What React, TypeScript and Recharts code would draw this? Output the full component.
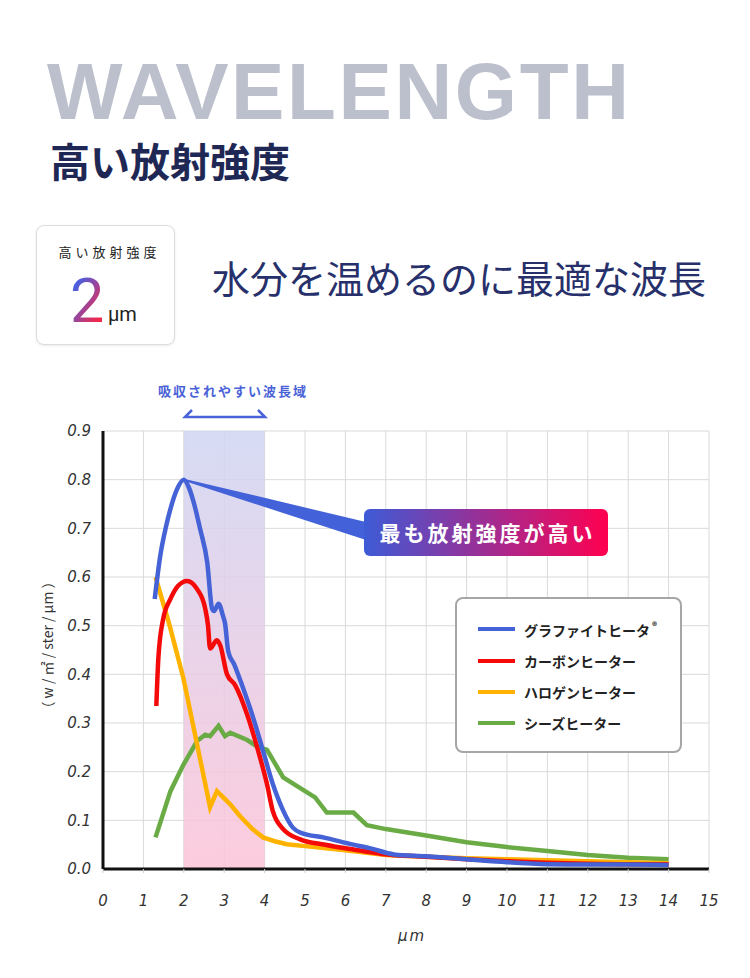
import { LineChart, Line, XAxis, YAxis, CartesianGrid, ReferenceArea, ReferenceDot } from 'recharts';

const xTicks = [0, 1, 2, 3, 4, 5, 6, 7, 8, 9, 10, 11, 12, 13, 14, 15];
const yTicks = [0, 0.1, 0.2, 0.3, 0.4, 0.5, 0.6, 0.7, 0.8, 0.9];

const seriesNames = ['グラファイトヒータ', 'カーボンヒーター', 'ハロゲンヒーター', 'シーズヒーター'];

const graphite = [
  { x: 1.28, y: 0.555 }, { x: 1.42, y: 0.645 }, { x: 1.55, y: 0.7 }, { x: 1.67, y: 0.74 },
  { x: 1.83, y: 0.78 }, { x: 2.0, y: 0.8 }, { x: 2.12, y: 0.785 }, { x: 2.24, y: 0.755 },
  { x: 2.4, y: 0.7 }, { x: 2.58, y: 0.63 }, { x: 2.7, y: 0.535 }, { x: 2.75, y: 0.53 },
  { x: 2.86, y: 0.545 }, { x: 2.97, y: 0.52 }, { x: 3.02, y: 0.505 }, { x: 3.1, y: 0.447 },
  { x: 3.25, y: 0.42 }, { x: 3.44, y: 0.378 }, { x: 3.72, y: 0.31 }, { x: 3.96, y: 0.243 },
  { x: 4.21, y: 0.173 }, { x: 4.46, y: 0.12 }, { x: 4.7, y: 0.085 }, { x: 4.88, y: 0.075 },
  { x: 5.5, y: 0.064 }, { x: 6.2, y: 0.05 }, { x: 6.6, y: 0.043 }, { x: 7.2, y: 0.03 },
  { x: 8, y: 0.026 }, { x: 9, y: 0.02 }, { x: 10, y: 0.014 }, { x: 11, y: 0.01 },
  { x: 12, y: 0.009 }, { x: 13, y: 0.009 }, { x: 14, y: 0.008 },
];

const carbon = [
  { x: 1.32, y: 0.335 }, { x: 1.37, y: 0.433 }, { x: 1.49, y: 0.514 }, { x: 1.67, y: 0.555 },
  { x: 1.86, y: 0.582 }, { x: 2.08, y: 0.592 }, { x: 2.33, y: 0.575 }, { x: 2.53, y: 0.535 },
  { x: 2.6, y: 0.5 }, { x: 2.65, y: 0.453 }, { x: 2.82, y: 0.47 }, { x: 2.9, y: 0.46 },
  { x: 3.07, y: 0.4 }, { x: 3.27, y: 0.378 }, { x: 3.57, y: 0.317 }, { x: 3.84, y: 0.243 },
  { x: 4.06, y: 0.174 }, { x: 4.2, y: 0.12 }, { x: 4.46, y: 0.082 }, { x: 4.88, y: 0.061 },
  { x: 5.5, y: 0.05 }, { x: 6.2, y: 0.04 }, { x: 6.9, y: 0.031 }, { x: 8, y: 0.025 },
  { x: 9, y: 0.02 }, { x: 10, y: 0.016 }, { x: 11, y: 0.013 }, { x: 12, y: 0.011 },
  { x: 13, y: 0.01 }, { x: 14, y: 0.01 },
];

const halogen = [
  { x: 1.3, y: 0.6 }, { x: 1.65, y: 0.5 }, { x: 1.99, y: 0.392 }, { x: 2.65, y: 0.127 },
  { x: 2.82, y: 0.16 }, { x: 3.15, y: 0.133 }, { x: 3.4, y: 0.108 }, { x: 3.7, y: 0.082 },
  { x: 3.96, y: 0.065 }, { x: 4.25, y: 0.057 }, { x: 4.55, y: 0.051 }, { x: 5, y: 0.047 },
  { x: 5.94, y: 0.039 }, { x: 7, y: 0.029 }, { x: 8, y: 0.025 }, { x: 9, y: 0.022 },
  { x: 10, y: 0.02 }, { x: 11, y: 0.018 }, { x: 12, y: 0.016 }, { x: 13, y: 0.014 },
  { x: 14, y: 0.012 },
];

const sheath = [
  { x: 1.3, y: 0.065 }, { x: 1.67, y: 0.16 }, { x: 1.99, y: 0.214 }, { x: 2.33, y: 0.263 },
  { x: 2.53, y: 0.276 }, { x: 2.65, y: 0.273 }, { x: 2.86, y: 0.294 }, { x: 3.02, y: 0.273 },
  { x: 3.15, y: 0.28 }, { x: 3.57, y: 0.265 }, { x: 3.81, y: 0.252 }, { x: 4.06, y: 0.245 },
  { x: 4.46, y: 0.188 }, { x: 5.25, y: 0.147 }, { x: 5.54, y: 0.116 }, { x: 6.2, y: 0.116 },
  { x: 6.53, y: 0.09 }, { x: 7, y: 0.082 }, { x: 8, y: 0.069 }, { x: 9, y: 0.055 },
  { x: 10, y: 0.045 }, { x: 11, y: 0.037 }, { x: 12, y: 0.029 }, { x: 13, y: 0.023 },
  { x: 14, y: 0.02 },
];

const peak = { x: 2.0, y: 0.8 };
const colors = ['#4563d6', '#f50a0a', '#ffb300', '#6aab45'];

const jp = '"Noto Sans CJK JP", "Noto Sans", sans-serif';
const tickStyle = { fontFamily: '"DejaVu Sans"', fontStyle: 'italic', fontSize: 15, fill: '#333' };

const Wedge = (props: any) => {
  const { cx, cy } = props;
  return <polygon points={`${cx},${cy - 1} ${cx},${cy + 1} 366,540 366,522`} fill="#4361d8" />;
};

export default function App() {
  return (
    <div style={{ position: 'relative', width: 750, height: 978, background: '#fff', fontFamily: jp, overflow: 'hidden' }}>
      <style>{`body{margin:0}`}</style>
      <svg width="0" height="0" style={{ position: 'absolute' }}>
        <defs>
          <linearGradient id="band" x1="0" y1="0" x2="0" y2="1">
            <stop offset="0%" stopColor="#cfd5f2" />
            <stop offset="100%" stopColor="#fcc3d8" />
          </linearGradient>
        </defs>
      </svg>

      <div style={{ position: 'absolute', left: 47, top: 52, fontFamily: '"Liberation Sans", Arial, sans-serif', fontWeight: 700, fontSize: 80, lineHeight: 1, letterSpacing: 2.6, color: '#bcc0cc' }}>WAVELENGTH</div>
      <div style={{ position: 'absolute', left: 50, top: 140, fontWeight: 700, fontSize: 40, lineHeight: 1, color: '#1f2854' }}>高い放射強度</div>

      <div style={{ position: 'absolute', left: 36, top: 225, width: 137, height: 118, border: '1px solid #dcdcdc', borderRadius: 8, boxShadow: '0 1px 3px rgba(0,0,0,0.08)', background: '#fff' }}>
        <div style={{ position: 'absolute', left: 0, width: 137, top: 19, textAlign: 'center', fontSize: 13, lineHeight: 1, letterSpacing: 4, paddingLeft: 4, color: '#222' }}>高い放射強度</div>
        <div style={{ position: 'absolute', left: 33, top: 45, fontFamily: 'Roboto, sans-serif', fontSize: 61, lineHeight: 1, background: 'linear-gradient(120deg, #4a5fe0 20%, #f0294f 80%)', WebkitBackgroundClip: 'text', backgroundClip: 'text', color: 'transparent' }}>2</div>
        <div style={{ position: 'absolute', left: 71, top: 78, fontFamily: 'Roboto, sans-serif', fontSize: 20, lineHeight: 1, color: '#222' }}>μm</div>
      </div>

      <div style={{ position: 'absolute', left: 212, top: 258, fontSize: 38, lineHeight: 1, color: '#27306a' }}>水分を温めるのに最適な波長</div>

      <div style={{ position: 'absolute', left: 158, top: 384, fontSize: 13, fontWeight: 700, letterSpacing: 2, lineHeight: 1, color: '#4a62d8' }}>吸収されやすい波長域</div>
      <svg style={{ position: 'absolute', left: 0, top: 0 }} width={750} height={440}>
        <polyline points="192,410 185,417 265,417 258,410" fill="none" stroke="#4a62d8" strokeWidth={2.5} />
      </svg>

      <div style={{ position: 'absolute', left: 0, top: 0 }}>
        <LineChart width={750} height={978} margin={{ top: 431, right: 41, bottom: 79, left: 43 }}>
          <CartesianGrid stroke="#d9d9d9" strokeWidth={1} />
          <XAxis
            dataKey="x"
            type="number"
            domain={[0, 15]}
            ticks={xTicks}
            interval={0}
            height={30}
            axisLine={{ stroke: '#111', strokeWidth: 3 }}
            tickLine={{ stroke: '#cfcfcf' }}
            tickSize={4}
            tickMargin={22}
            tick={tickStyle}
            allowDataOverflow
          />
          <YAxis
            type="number"
            domain={[0, 0.9]}
            ticks={yTicks}
            interval={0}
            width={60}
            axisLine={{ stroke: '#111', strokeWidth: 3 }}
            tickLine={false}
            tickSize={0}
            tickMargin={12}
            tick={tickStyle}
            tickFormatter={(v: number) => v.toFixed(1)}
          />
          <ReferenceArea x1={2} x2={4} y1={0} y2={0.9} fill="url(#band)" fillOpacity={0.85} stroke="none" />
          <Line data={sheath} dataKey="y" name={seriesNames[3]} type="linear" stroke={colors[3]} strokeWidth={4.5} dot={false} isAnimationActive={false} />
          <Line data={halogen} dataKey="y" name={seriesNames[2]} type="linear" stroke={colors[2]} strokeWidth={4.5} dot={false} isAnimationActive={false} />
          <Line data={carbon} dataKey="y" name={seriesNames[1]} type="monotone" stroke={colors[1]} strokeWidth={4.5} dot={false} isAnimationActive={false} />
          <Line data={graphite} dataKey="y" name={seriesNames[0]} type="monotone" stroke={colors[0]} strokeWidth={4.5} dot={false} isAnimationActive={false} />
          <ReferenceDot x={peak.x} y={peak.y} r={0} shape={Wedge} />
        </LineChart>
      </div>

      <div style={{ position: 'absolute', left: 364, top: 509, width: 244, height: 47, borderRadius: 6, background: 'linear-gradient(90deg, #3d5bd6, #ff0050)', color: '#fff', fontSize: 21, fontWeight: 700, letterSpacing: 3, lineHeight: '47px', textAlign: 'center', paddingLeft: 3, boxSizing: 'border-box' }}>最も放射強度が高い</div>

      <div style={{ position: 'absolute', left: 455, top: 597, width: 227, height: 156, border: '2px solid #a6a6a6', borderRadius: 8, background: '#fff', boxSizing: 'border-box' }}>
        {seriesNames.map((n, i) => (
          <div key={n} style={{ position: 'absolute', left: 21, top: [30, 62, 93, 124][i] - 10, height: 20, display: 'flex', alignItems: 'center' }}>
            <div style={{ width: 37, height: 4, background: colors[i] }} />
            <div style={{ marginLeft: 9, fontSize: 14, fontWeight: 700, color: '#222', lineHeight: 1 }}>
              {n}{i === 0 ? <sup style={{ fontSize: 10, marginLeft: 2 }}>®</sup> : null}
            </div>
          </div>
        ))}
      </div>

      <div style={{ position: 'absolute', left: 47, top: 645, transform: 'translate(-50%, -50%) rotate(-90deg)', whiteSpace: 'nowrap', fontSize: 14, color: '#333', lineHeight: 1 }}>（ w / ㎡ / ster / μm ）</div>
      <div style={{ position: 'absolute', left: 398, top: 929, fontFamily: '"DejaVu Sans"', fontStyle: 'italic', fontSize: 15, letterSpacing: 2, color: '#333', lineHeight: 1 }}>μm</div>
    </div>
  );
}
